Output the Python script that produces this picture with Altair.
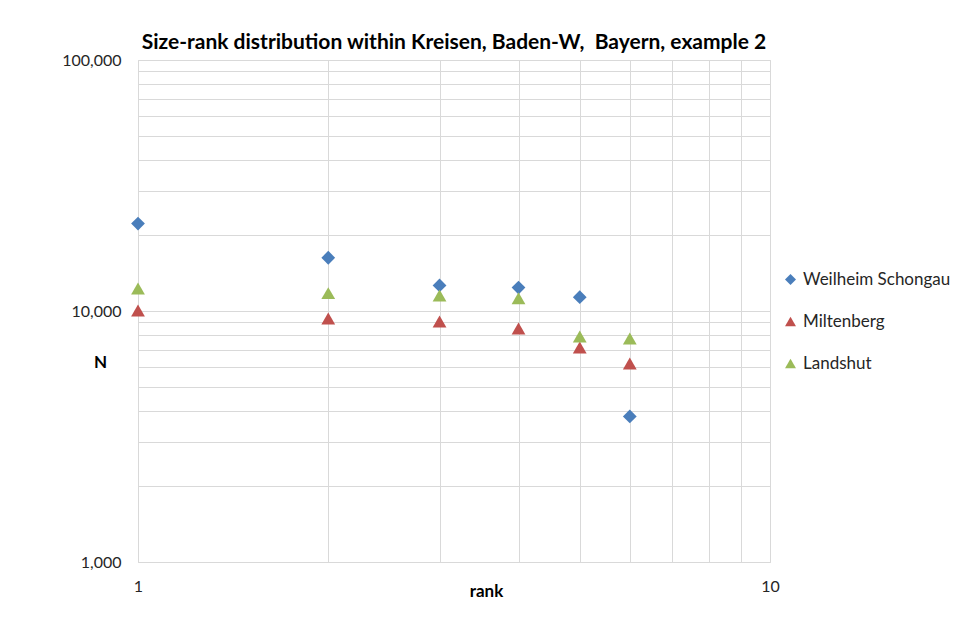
import altair as alt
import pandas as pd

series_names = ["Weilheim Schongau", "Miltenberg", "Landshut"]
ranks = [1, 2, 3, 4, 5, 6]
weilheim = [22300, 16300, 12650, 12400, 11350, 3800]
miltenberg = [10050, 9330, 9080, 8510, 7160, 6180]
landshut = [12300, 11780, 11530, 11240, 7910, 7770]

colors = ["#4A7EBB", "#C0504D", "#9BBB59"]
shapes = ["diamond", "triangle-up", "triangle-up"]

x_grid = [1, 2, 3, 4, 5, 6, 7, 8, 9, 10]
y_grid = [1000, 2000, 3000, 4000, 5000, 6000, 7000, 8000, 9000,
          10000, 20000, 30000, 40000, 50000, 60000, 70000, 80000, 90000, 100000]

rows = []
for name, vals in zip(series_names, [weilheim, miltenberg, landshut]):
    for r, v in zip(ranks, vals):
        rows.append({"series": name, "rank": r, "N": v})
df = pd.DataFrame(rows)

FONT = "Lato"

legend_cfg = dict(title=None, orient="none", legendX=644, legendY=211,
                  labelFontSize=17, labelColor="#262626",
                  symbolSize=120, rowPadding=24, labelOffset=4)

chart = alt.Chart(df).mark_point(filled=True, opacity=1, size=190).encode(
    x=alt.X("rank:Q",
            scale=alt.Scale(type="log", domain=[1, 10], nice=False),
            axis=alt.Axis(values=x_grid,
                          labelExpr="datum.value == 1 || datum.value == 10 ? datum.value : ''",
                          title="rank", titleFontWeight="bold", titleFontSize=17,
                          titleX=348, titleY=29, titleBaseline="middle", titleAlign="center",
                          labelFontSize=16, labelPadding=16, labelFlush=False,
                          labelOverlap=False, ticks=False, domain=False,
                          grid=True, gridColor="#d9d9d9", labelColor="#262626")),
    y=alt.Y("N:Q",
            scale=alt.Scale(type="log", domain=[1000, 100000], nice=False),
            axis=alt.Axis(values=y_grid,
                          labelExpr="datum.value == 1000 || datum.value == 10000 || datum.value == 100000 ? format(datum.value, ',') : ''",
                          title="N", titleAngle=0, titleFontWeight="bold", titleFontSize=17,
                          titleX=-38, titleY=302, titleBaseline="middle", titleAlign="center",
                          labelFontSize=16, labelPadding=17, labelFlush=False,
                          labelOverlap=False, ticks=False, domain=False,
                          grid=True, gridColor="#d9d9d9", labelColor="#262626")),
    color=alt.Color("series:N",
                    scale=alt.Scale(domain=series_names, range=colors),
                    legend=alt.Legend(**legend_cfg)),
    shape=alt.Shape("series:N",
                    scale=alt.Scale(domain=series_names, range=shapes),
                    legend=alt.Legend(**legend_cfg)),
).properties(
    width=632,
    height=502,
    title=alt.TitleParams("Size-rank distribution within Kreisen, Baden-W,\u00a0 Bayern, example 2",
                          fontSize=21, fontWeight="bold", font=FONT, color="#000000",
                          anchor="middle", offset=0, baseline="bottom", dy=22),
    autosize=alt.AutoSizeParams(type="none"),
    padding={"left": 130, "top": 52, "right": 196, "bottom": 71},
).configure(
    font=FONT,
).configure_view(
    stroke="#d9d9d9",
).configure_axis(
    labelFont=FONT, titleFont=FONT,
).configure_legend(
    labelFont=FONT,
)

chart.save("out.html", embed_options={"renderer": "svg", "actions": False})
